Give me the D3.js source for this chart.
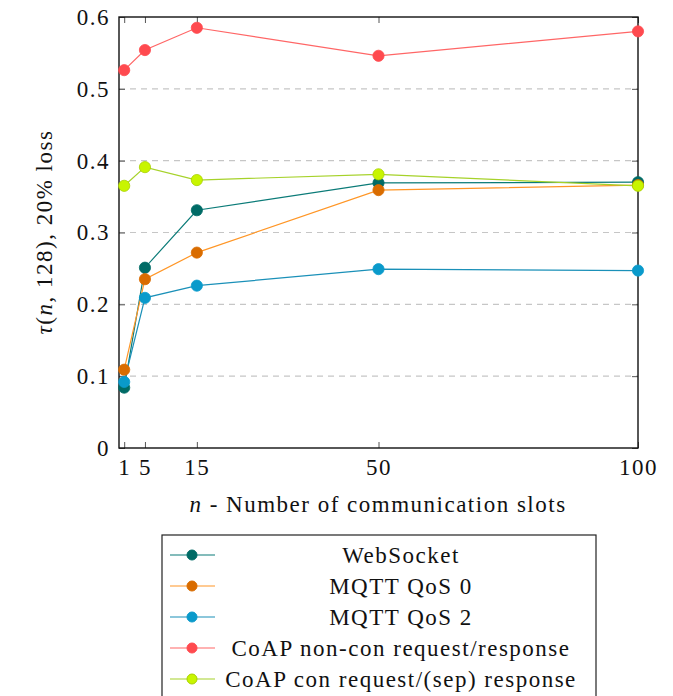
<!DOCTYPE html>
<html>
<head>
<meta charset="utf-8">
<script src="https://cdn.jsdelivr.net/npm/d3@7"></script>
<style>
  body { margin: 0; background: #fff; }
  svg text { font-family: "Liberation Serif", "DejaVu Serif", serif; fill: #111; letter-spacing: 1.5px; }
</style>
</head>
<body>
<svg></svg>
<script>
var slots = [1, 5, 15, 50, 100];
var yTicks = [0, 0.1, 0.2, 0.3, 0.4, 0.5, 0.6];
var seriesNames = ["WebSocket", "MQTT QoS 0", "MQTT QoS 2",
  "CoAP non-con request/response", "CoAP con request/(sep) response"];
var webSocket = [0.084, 0.251, 0.331, 0.369, 0.370];
var mqtt0 = [0.109, 0.235, 0.272, 0.359, 0.366];
var mqtt2 = [0.092, 0.209, 0.226, 0.249, 0.247];
var coapNonCon = [0.526, 0.554, 0.585, 0.546, 0.580];
var coapCon = [0.365, 0.391, 0.373, 0.381, 0.365];

var lineColors = ["#0b7b78", "#ff9626", "#1a90b8", "#ff6666", "#a6d22a"];
var markColors = ["#006b66", "#d96c00", "#0a9acb", "#ff4a4f", "#c8f500"];

var width = 673, height = 696;
var padLeft = 119, padRight = 638, padTop = 17, padBottom = 448;
var fontSize = '23px';

var series = [webSocket, mqtt0, mqtt2, coapNonCon, coapCon];

var xScale = d3.scaleLinear().domain([0, 100]).range([padLeft, padRight]);
var yScale = d3.scaleLinear().domain([0, 0.6]).range([padBottom, padTop]);

var svg = d3.select('svg')
  .attr('width', width)
  .attr('height', height);

// dashed grid
svg.append('g')
  .selectAll('line')
  .data(yTicks.filter(d => d > 0 && d < 0.6))
  .enter()
  .append('line')
    .attr('x1', padLeft).attr('x2', padRight)
    .attr('y1', d => yScale(d)).attr('y2', d => yScale(d))
    .attr('stroke', '#c6c6c6')
    .attr('stroke-width', 1.2)
    .attr('stroke-dasharray', '6,5');

// axes with inward ticks on all sides
var fmt = d => d === 0 ? '0' : d3.format('.1f')(d);
var axisStyle = function(g) {
  g.select('.domain').remove();
  g.selectAll('.tick line').attr('stroke', '#555').attr('stroke-width', 1);
  g.selectAll('.tick text')
    .style('font-family', '"Liberation Serif", serif')
    .style('font-size', fontSize)
    .attr('fill', '#111');
};

svg.append('g')
  .attr('transform', 'translate(0,' + padBottom + ')')
  .call(d3.axisBottom(xScale).tickValues(slots).tickSizeInner(-6).tickSizeOuter(0).tickPadding(11))
  .call(axisStyle);

svg.append('g')
  .attr('transform', 'translate(0,' + padTop + ')')
  .call(d3.axisTop(xScale).tickValues(slots).tickSizeInner(-6).tickSizeOuter(0).tickFormat(''))
  .call(axisStyle);

svg.append('g')
  .attr('transform', 'translate(' + padLeft + ',0)')
  .call(d3.axisLeft(yScale).tickValues(yTicks).tickFormat(fmt).tickSizeInner(-6).tickSizeOuter(0).tickPadding(9))
  .call(axisStyle);

svg.append('g')
  .attr('transform', 'translate(' + padRight + ',0)')
  .call(d3.axisRight(yScale).tickValues(yTicks).tickSizeInner(-6).tickSizeOuter(0).tickFormat(''))
  .call(axisStyle);

// frame
svg.append('rect')
  .attr('x', padLeft).attr('y', padTop)
  .attr('width', padRight - padLeft).attr('height', padBottom - padTop)
  .attr('fill', 'none')
  .attr('stroke', '#111')
  .attr('stroke-width', 1.4);

// lines and markers
var line = d3.line()
  .x((d, i) => xScale(slots[i]))
  .y(d => yScale(d));

series.forEach(function(vals, k) {
  svg.append('path')
    .datum(vals)
    .attr('d', line)
    .attr('fill', 'none')
    .attr('stroke', lineColors[k])
    .attr('stroke-width', 1.2);
});

series.forEach(function(vals, k) {
  svg.append('g')
    .selectAll('circle')
    .data(vals)
    .enter()
    .append('circle')
      .attr('cx', (d, i) => xScale(slots[i]))
      .attr('cy', d => yScale(d))
      .attr('r', 5.6)
      .attr('fill', markColors[k])
      .attr('stroke', k === 4 ? '#a8d000' : markColors[k])
      .attr('stroke-width', 0.8);
});

// axis labels
var yLab = svg.append('text')
  .attr('transform', 'translate(52,232) rotate(-90)')
  .style('text-anchor', 'middle')
  .style('font-size', fontSize);
yLab.append('tspan').style('font-style', 'italic').text('τ');
yLab.append('tspan').text('(');
yLab.append('tspan').style('font-style', 'italic').text('n');
yLab.append('tspan').text(', 128), 20% loss');

var xLab = svg.append('text')
  .attr('x', 378)
  .attr('y', 512)
  .style('text-anchor', 'middle')
  .style('font-size', fontSize);
xLab.append('tspan').style('font-style', 'italic').text('n');
xLab.append('tspan').text(' - Number of communication slots');

// legend
var legend = svg.append('g');
legend.append('rect')
  .attr('x', 162).attr('y', 535)
  .attr('width', 434).attr('height', 180)
  .attr('fill', '#fff')
  .attr('stroke', '#222')
  .attr('stroke-width', 1.2);

var rows = legend.selectAll('g.row')
  .data(seriesNames)
  .enter()
  .append('g')
    .attr('class', 'row')
    .attr('transform', (d, i) => 'translate(0,' + (555 + i * 31) + ')');

rows.append('line')
  .attr('x1', 170).attr('x2', 215)
  .attr('stroke', (d, i) => lineColors[i])
  .attr('stroke-width', 1.2);
rows.append('circle')
  .attr('cx', 192).attr('r', 5)
  .attr('fill', (d, i) => markColors[i])
  .attr('stroke', (d, i) => i === 4 ? '#a8d000' : markColors[i]);
rows.append('text')
  .attr('x', 401)
  .attr('dy', '0.33em')
  .style('text-anchor', 'middle')
  .style('font-size', fontSize)
  .text(d => d);
</script>
</body>
</html>
